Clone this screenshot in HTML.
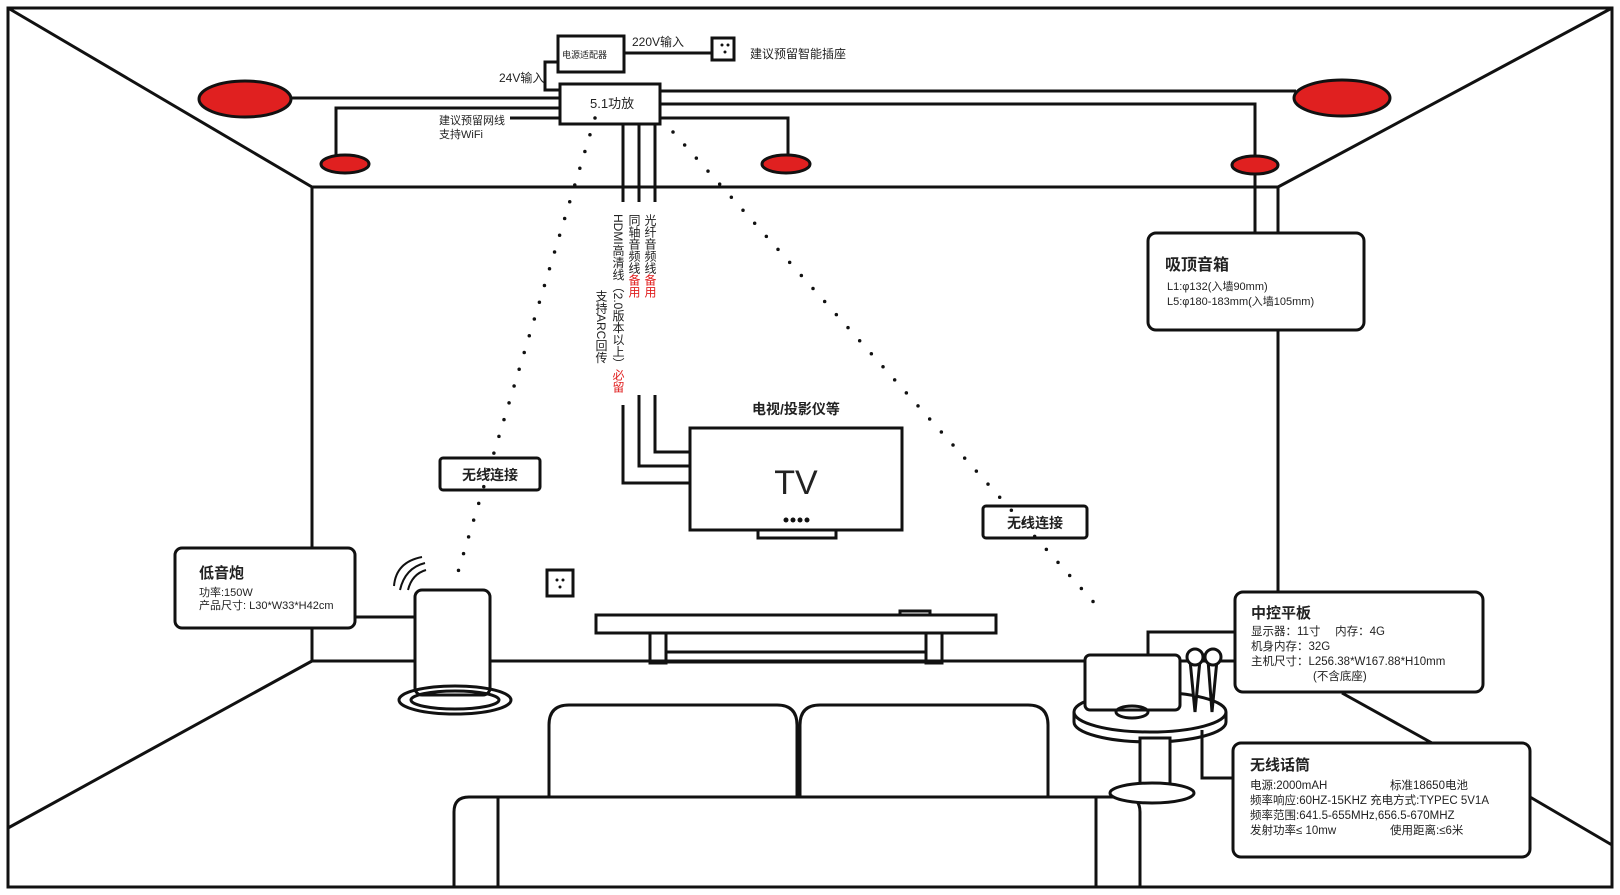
<!DOCTYPE html>
<html><head><meta charset="utf-8"><style>
html,body{margin:0;padding:0;background:#fff}
svg{display:block}
text{font-family:"Liberation Sans","Noto Sans CJK SC",sans-serif;fill:#222}
.b{font-weight:bold}
</style></head><body>
<svg width="1620" height="895" viewBox="0 0 1620 895" xmlns="http://www.w3.org/2000/svg">
<g fill="none" stroke="#111" stroke-width="3">
<!-- room -->
<rect x="8" y="8" width="1604" height="879"/>
<line x1="8" y1="8" x2="312" y2="187"/>
<line x1="1612" y1="8" x2="1278" y2="187"/>
<line x1="312" y1="187" x2="1278" y2="187"/>
<line x1="312" y1="187" x2="312" y2="548"/>
<line x1="312" y1="628" x2="312" y2="661"/>
<line x1="1278" y1="187" x2="1278" y2="232"/>
<line x1="1278" y1="330" x2="1278" y2="592"/>
<line x1="312" y1="661" x2="8" y2="828"/>
<line x1="312" y1="661" x2="415" y2="661"/>
<line x1="490" y1="661" x2="1085" y2="661"/>
<line x1="1342" y1="693" x2="1432" y2="743"/>
<line x1="1530" y1="797" x2="1612" y2="845"/>
<line x1="1180" y1="661" x2="1235" y2="661"/>
<!-- amp & adapter -->
<rect x="558" y="36" width="66" height="36"/>
<rect x="560" y="84" width="100" height="40"/>
<line x1="624" y1="53" x2="712" y2="53"/>
<rect x="712" y="38" width="22" height="22"/>
<polyline points="558,62 545,62 545,90 560,90"/>
<line x1="290" y1="98" x2="560" y2="98"/>
<polyline points="560,108 336,108 336,158"/>
<line x1="510" y1="118" x2="560" y2="118"/>
<line x1="660" y1="91" x2="1296" y2="91"/>
<polyline points="660,104 1255,104 1255,232"/>
<polyline points="660,118 788,118 788,158"/>
<!-- vertical cables -->
<line x1="623" y1="124" x2="623" y2="202"/>
<line x1="639" y1="124" x2="639" y2="202"/>
<line x1="655" y1="124" x2="655" y2="202"/>
<polyline points="655,395 655,452 690,452"/>
<polyline points="639,395 639,466 690,466"/>
<polyline points="623,405 623,483 690,483"/>
<!-- TV -->
<rect x="690" y="428" width="212" height="102"/>
<rect x="758" y="530" width="78" height="8"/>
<!-- boxes -->
<rect x="1148" y="233" width="216" height="97" rx="8"/>
<rect x="175" y="548" width="180" height="80" rx="7"/>
<rect x="440" y="458" width="100" height="32" rx="3"/>
<rect x="983" y="506" width="104" height="32" rx="3"/>
<rect x="1235" y="592" width="248" height="100" rx="8"/>
<rect x="1233" y="743" width="297" height="114" rx="8"/>
<line x1="355" y1="617" x2="415" y2="617"/>
<polyline points="1148,655 1148,632 1235,632"/>
<polyline points="1202,730 1202,778 1233,778"/>
<!-- subwoofer -->
<rect x="415" y="590" width="75" height="105" rx="7"/>
<ellipse cx="455" cy="700" rx="56" ry="14"/>
<ellipse cx="455" cy="700" rx="44" ry="9"/>
<path d="M400,590 Q405,568 425,563" stroke-width="2"/>
<path d="M408,590 Q412,574 426,570" stroke-width="2"/>
<path d="M394,586 Q396,562 422,557" stroke-width="2"/>
<rect x="547" y="570" width="26" height="26"/>
<!-- coffee table -->
<rect x="596" y="615" width="400" height="18"/>
<rect x="900" y="611" width="30" height="4"/>
<rect x="650" y="633" width="16" height="30"/>
<rect x="926" y="633" width="16" height="30"/>
<line x1="666" y1="652" x2="926" y2="652"/>
<line x1="666" y1="662" x2="926" y2="662"/>
<!-- sofa -->
<path d="M549,798 V725 Q549,705 569,705 H777 Q797,705 797,725 V798"/>
<path d="M800,798 V725 Q800,705 820,705 H1028 Q1048,705 1048,725 V798"/>
<path d="M454,887 V812 Q454,797 469,797 H1125 Q1140,797 1140,812 V887"/>
<line x1="498" y1="797" x2="498" y2="887"/>
<line x1="1096" y1="797" x2="1096" y2="887"/>
<!-- side table -->
<ellipse cx="1150" cy="712" rx="76" ry="20" fill="#fff"/>
<path d="M1074,712 V722 A76,20 0 0 0 1226,722 V712"/>
<rect x="1140" y="738" width="30" height="52" fill="#fff"/>
<ellipse cx="1152" cy="793" rx="42" ry="10" fill="#fff"/>
<rect x="1085" y="655" width="95" height="55" rx="5" fill="#fff"/>
<ellipse cx="1132" cy="712" rx="16" ry="6"/>
<path d="M1190,660 L1195,712 L1200,660" fill="#fff"/>
<path d="M1208,660 L1212,712 L1217,660" fill="#fff"/>
<circle cx="1195" cy="657" r="8" fill="#fff"/>
<circle cx="1213" cy="657" r="8" fill="#fff"/>
</g>
<!-- speakers -->
<g fill="#e02020" stroke="#111" stroke-width="3">
<ellipse cx="245" cy="99" rx="46" ry="18"/>
<ellipse cx="1342" cy="98" rx="48" ry="18"/>
<ellipse cx="345" cy="164" rx="24" ry="9"/>
<ellipse cx="786" cy="164" rx="24" ry="9"/>
<ellipse cx="1255" cy="165" rx="23" ry="9"/>
</g>
<!-- dotted wireless -->
<g stroke="#111" stroke-width="3.5" stroke-linecap="round" stroke-dasharray="0 17.5">
<line x1="595" y1="118" x2="458" y2="572"/>
<line x1="673" y1="132" x2="1097" y2="606"/>
</g>
<g fill="#111">
<circle cx="722" cy="45" r="1.5"/><circle cx="728" cy="45" r="1.5"/><circle cx="725" cy="52" r="1.5"/>
<circle cx="557" cy="580" r="1.5"/><circle cx="563" cy="580" r="1.5"/><circle cx="560" cy="587" r="1.5"/>
<circle cx="786" cy="520" r="2.5"/><circle cx="793" cy="520" r="2.5"/><circle cx="800" cy="520" r="2.5"/><circle cx="807" cy="520" r="2.5"/>
</g>
<!-- text -->
<text x="562" y="58" font-size="9">电源适配器</text>
<text x="632" y="46" font-size="12">220V输入</text>
<text x="750" y="58" font-size="12">建议预留智能插座</text>
<text x="499" y="82" font-size="12">24V输入</text>
<text x="590" y="108" font-size="13">5.1功放</text>
<text x="439" y="124" font-size="11">建议预留网线</text>
<text x="439" y="138" font-size="11">支持WiFi</text>
<g font-size="12">
<text x="650" y="214" writing-mode="tb" style="writing-mode:vertical-rl">光纤音频线<tspan fill="#e02020">备用</tspan></text>
<text x="634" y="214" style="writing-mode:vertical-rl">同轴音频线<tspan fill="#e02020">备用</tspan></text>
<text x="618" y="214" style="writing-mode:vertical-rl">HDMI高清线（2.0版本以上）<tspan fill="#e02020">必留</tspan></text>
<text x="601" y="290" style="writing-mode:vertical-rl">支持ARC回传</text>
</g>
<text x="796" y="414" font-size="14" class="b" text-anchor="middle">电视/投影仪等</text>
<text x="796" y="494" font-size="34" text-anchor="middle">TV</text>
<text x="490" y="480" font-size="14" class="b" text-anchor="middle">无线连接</text>
<text x="1035" y="528" font-size="14" class="b" text-anchor="middle">无线连接</text>
<text x="1165" y="270" font-size="16" class="b">吸顶音箱</text>
<text x="1167" y="290" font-size="11">L1:φ132(入墙90mm)</text>
<text x="1167" y="305" font-size="11">L5:φ180-183mm(入墙105mm)</text>
<text x="199" y="578" font-size="15" class="b">低音炮</text>
<text x="199" y="596" font-size="11">功率:150W</text>
<text x="199" y="609" font-size="11">产品尺寸: L30*W33*H42cm</text>
<text x="1251" y="618" font-size="15" class="b">中控平板</text>
<text x="1251" y="635" font-size="11.5">显示器：11寸　  内存：4G</text>
<text x="1251" y="650" font-size="11.5">机身内存：32G</text>
<text x="1251" y="665" font-size="11.5">主机尺寸：L256.38*W167.88*H10mm</text>
<text x="1313" y="680" font-size="11.5">(不含底座)</text>
<text x="1250" y="770" font-size="15" class="b">无线话筒</text>
<text x="1250" y="789" font-size="11.5">电源:2000mAH</text>
<text x="1390" y="789" font-size="11.5">标准18650电池</text>
<text x="1250" y="804" font-size="11.5">频率响应:60HZ-15KHZ 充电方式:TYPEC 5V1A</text>
<text x="1250" y="819" font-size="11.5">频率范围:641.5-655MHz,656.5-670MHZ</text>
<text x="1250" y="834" font-size="11.5">发射功率≤ 10mw</text>
<text x="1390" y="834" font-size="11.5">使用距离:≤6米</text>
</svg>
</body></html>
